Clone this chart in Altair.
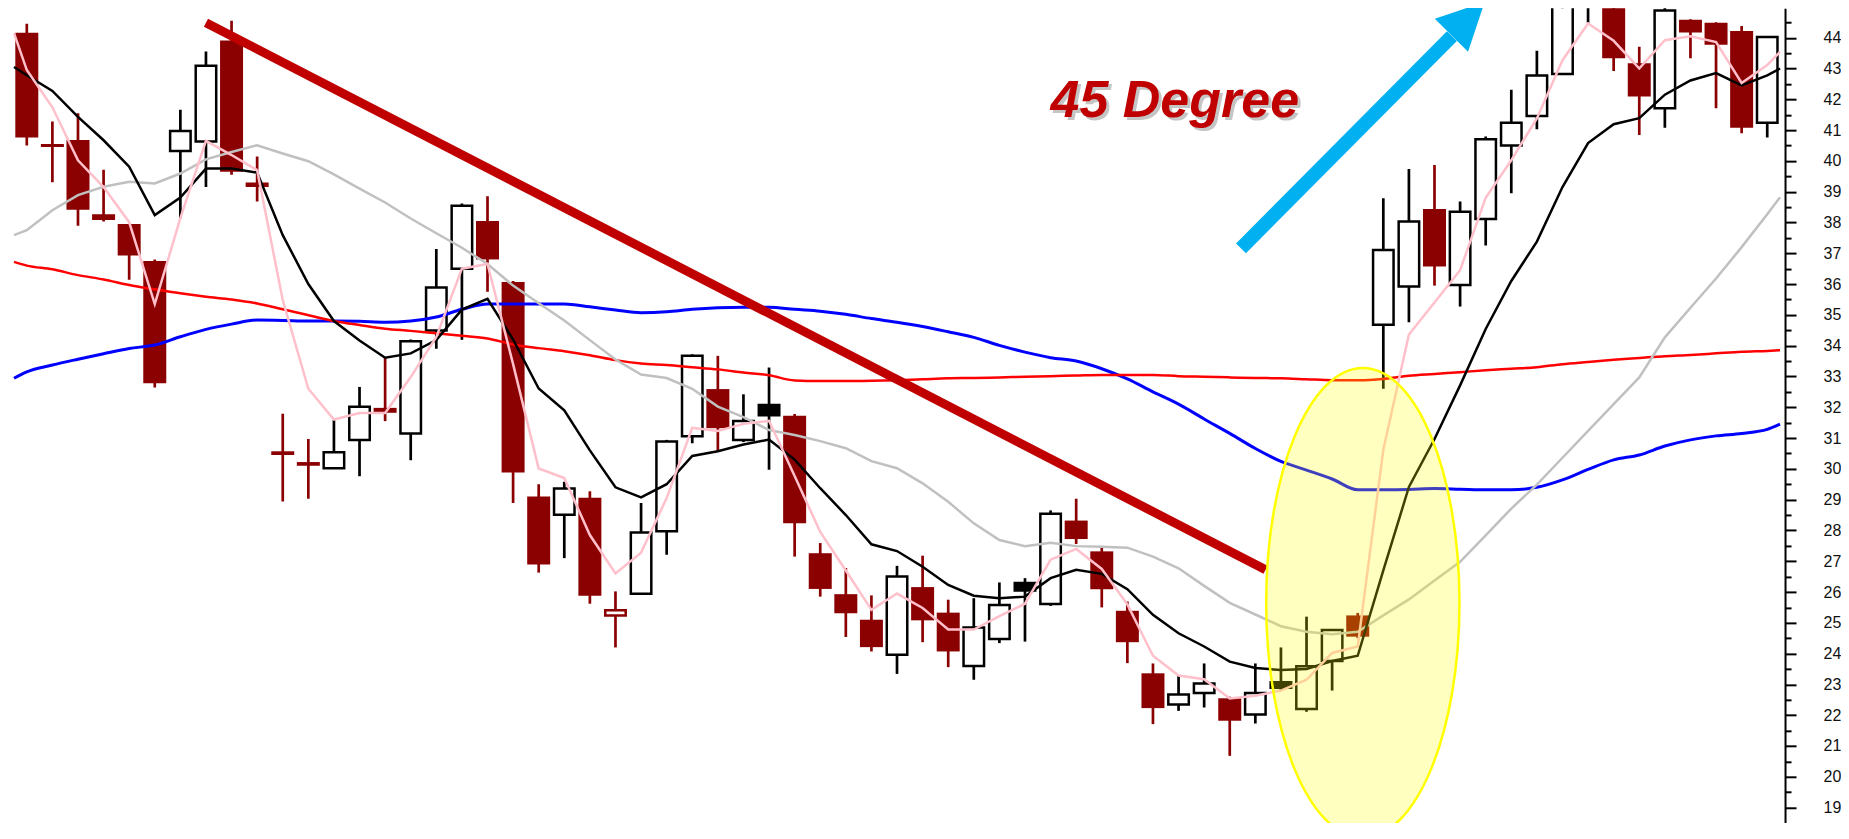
import altair as alt
import pandas as pd

# ---------------- candles (index 0..68) ----------------
opens = [44.16, 40.55, 40.68, 38.27, 37.95, 36.75, 40.32, 40.63, 43.91, 39.30,
         30.57, 30.22, 30.02, 30.94, 31.98, 31.15, 34.49, 36.50, 38.05, 36.07,
         29.10, 28.51, 29.06, 25.24, 25.94, 27.97, 31.06, 32.59, 30.94, 31.74,
         31.72, 27.26, 25.93, 25.10, 23.96, 26.16, 25.33, 23.60, 24.47, 26.05,
         25.61, 28.32, 27.32, 25.39, 23.36, 22.35, 22.72, 22.55, 22.02, 22.89,
         22.20, 23.76, 25.24, 34.68, 35.92, 38.44, 35.97, 38.11, 40.50, 41.46,
         42.82, 45.17, 45.80, 43.17, 41.71, 44.58, 44.49, 44.22, 41.24]
closes = [40.76, 40.45, 38.41, 38.08, 36.93, 32.78, 40.97, 43.09, 39.65, 39.15,
          30.45, 30.10, 30.54, 32.02, 31.82, 34.14, 35.89, 38.54, 36.80, 29.88,
          26.89, 29.36, 25.88, 25.41, 27.93, 30.89, 33.67, 31.32, 31.55, 32.07,
          28.23, 26.10, 25.31, 24.21, 26.50, 25.08, 24.07, 24.85, 25.58, 26.29,
          28.54, 27.72, 26.09, 24.37, 22.23, 22.67, 23.03, 21.82, 22.72, 23.07,
          23.59, 24.77, 24.55, 37.11, 38.03, 36.57, 38.35, 40.70, 41.24, 42.77,
          45.17, 46.00, 43.33, 42.09, 44.88, 44.17, 43.77, 41.08, 44.02]
highs = [44.45, 41.28, 41.55, 39.71, 37.95, 36.80, 41.66, 43.55, 44.55, 40.14,
         31.79, 30.97, 31.59, 32.66, 33.62, 34.20, 37.14, 38.62, 38.85, 36.10,
         29.50, 29.58, 29.27, 26.02, 28.89, 30.94, 33.72, 33.67, 32.42, 33.29,
         31.78, 27.59, 26.78, 25.89, 26.85, 27.18, 25.75, 25.80, 26.31, 26.45,
         28.65, 29.03, 27.46, 25.69, 23.68, 23.29, 23.68, 22.60, 23.68, 24.20,
         25.20, 24.77, 25.32, 38.79, 39.74, 39.87, 38.68, 40.79, 42.31, 43.58,
         45.50, 46.50, 46.00, 43.71, 45.30, 44.60, 44.50, 44.38, 44.02]
lows = [40.50, 39.31, 37.89, 38.03, 36.14, 32.64, 38.14, 39.15, 39.55, 38.68,
        28.94, 29.03, 30.00, 29.76, 31.55, 30.28, 33.90, 34.19, 35.75, 28.89,
        26.63, 27.10, 25.62, 24.20, 25.94, 27.21, 30.83, 30.57, 30.87, 29.97,
        27.15, 25.85, 24.54, 24.07, 23.34, 24.37, 23.56, 23.15, 24.34, 24.39,
        25.55, 27.56, 25.50, 23.69, 21.71, 22.14, 22.25, 20.68, 21.73, 22.80,
        22.11, 22.80, 24.50, 32.60, 34.76, 35.95, 35.27, 37.25, 38.95, 41.03,
        42.82, 44.49, 42.92, 40.84, 41.08, 43.33, 41.71, 40.90, 40.76]
# d = falling (filled dark red), u = rising (white), k = black body, h = hollow red
styles = list("dddddduudd" "dduuduuudd" "dudhuuuduk" "ddddudduuk"
              "udddduuduk" "uuduuduuuu" "uudduddd" "u")

# ---------------- moving averages (x = -0.5, 0..68, 68.5) ----------------
ma_pink = [44.15,
           42.95, 41.74, 40.02, 39.15, 38.01, 35.35, 38.14, 40.65, 40.19, 39.70,
           35.48, 32.60, 31.60, 31.81, 31.81, 32.98, 34.28, 36.50, 36.65, 33.40,
           30.01, 29.70, 27.85, 26.60, 27.28, 29.05, 31.33, 31.23, 31.46, 31.56,
           29.77, 27.95, 26.70, 25.42, 25.95, 25.48, 24.78, 24.78, 25.22, 25.62,
           27.05, 27.40, 26.75, 25.60, 23.93, 23.29, 23.17, 22.54, 22.63, 22.80,
           23.15, 24.02, 24.23, 30.62, 34.36, 35.40, 36.45, 38.80, 40.02, 41.38,
           43.27, 44.46, 43.90, 43.00, 43.92, 44.05, 43.86, 42.53, 43.11,
           43.54]
ma_black = [43.05,
            42.78, 42.27, 41.43, 40.67, 39.81, 38.24, 38.81, 39.75, 39.75, 39.62,
            37.59, 36.00, 34.80, 34.17, 33.61, 33.75, 34.18, 35.17, 35.52, 34.20,
            32.61, 31.90, 30.60, 29.40, 29.07, 29.50, 30.42, 30.57, 30.79, 30.95,
            30.30, 29.37, 28.50, 27.55, 27.33, 26.82, 26.23, 25.88, 25.80, 25.85,
            26.45, 26.72, 26.59, 26.09, 25.26, 24.66, 24.23, 23.74, 23.53, 23.47,
            23.50, 23.76, 23.93, 26.70, 29.41, 30.97, 32.71, 34.54, 36.10, 37.38,
            39.15, 40.58, 41.19, 41.39, 42.15, 42.61, 42.85, 42.45, 42.78,
            43.00]
ma_gray = [37.59,
           37.75, 38.40, 38.89, 39.16, 39.32, 39.27, 39.59, 40.05, 40.29, 40.51,
           40.24, 39.99, 39.56, 39.10, 38.65, 38.13, 37.65, 37.18, 36.65, 35.95,
           35.38, 34.82, 34.18, 33.55, 33.06, 32.95, 32.60, 32.02, 31.68, 31.26,
           31.10, 30.90, 30.67, 30.25, 30.02, 29.53, 28.93, 28.23, 27.69, 27.49,
           27.60, 27.49, 27.47, 27.44, 27.15, 26.77, 26.20, 25.65, 25.27, 24.89,
           24.71, 24.63, 24.71, 25.24, 25.76, 26.37, 26.98, 27.84, 28.71, 29.49,
           30.36, 31.23, 32.10, 32.97, 34.27, 35.23, 36.18, 37.20, 38.27,
           38.82]
ma_red = [36.72,
          36.60, 36.48, 36.29, 36.15, 35.97, 35.83, 35.70, 35.59, 35.50, 35.37,
          35.18, 34.99, 34.80, 34.67, 34.55, 34.48, 34.40, 34.32, 34.23, 34.04,
          33.92, 33.82, 33.69, 33.53, 33.42, 33.37, 33.30, 33.23, 33.13, 33.04,
          32.87, 32.85, 32.85, 32.86, 32.88, 32.91, 32.94, 32.95, 32.97, 32.99,
          33.01, 33.03, 33.05, 33.05, 33.05, 33.01, 32.99, 32.97, 32.95, 32.94,
          32.91, 32.88, 32.88, 32.92, 33.02, 33.08, 33.14, 33.20, 33.25, 33.30,
          33.40, 33.47, 33.54, 33.60, 33.66, 33.70, 33.75, 33.80, 33.83,
          33.85]
ma_blue = [32.94,
           33.15, 33.37, 33.56, 33.74, 33.91, 34.02, 34.29, 34.53, 34.70, 34.83,
           34.82, 34.80, 34.80, 34.79, 34.76, 34.80, 34.93, 35.18, 35.35, 35.35,
           35.35, 35.35, 35.26, 35.16, 35.07, 35.10, 35.18, 35.23, 35.25, 35.25,
           35.18, 35.12, 35.02, 34.88, 34.76, 34.62, 34.45, 34.27, 34.01, 33.79,
           33.61, 33.50, 33.25, 32.92, 32.50, 32.10, 31.62, 31.15, 30.66, 30.24,
           29.96, 29.67, 29.32, 29.32, 29.33, 29.36, 29.34, 29.32, 29.32, 29.40,
           29.64, 29.98, 30.29, 30.45, 30.74, 30.94, 31.07, 31.15, 31.28,
           31.45]

# ---------------- annotations ----------------
trend_start = (7.0, 44.49)
trend_end = (48.4, 26.72)
arrow_tail = (47.44, 37.16)
arrow_base = (55.68, 44.05)
arrow_head = (56.31, 44.62)
label_text = "45 Degree"
label_pos = (40.0, 41.43)
ellipse_center = (52.2, 25.65)
tick_values = [v / 2 for v in range(38, 91)]

N = len(opens)
candle_idx = list(range(N))
ma_idx = [-0.5] + candle_idx + [N - 0.5]

df = pd.DataFrame({"i": candle_idx, "open": opens, "close": closes,
                   "high": highs, "low": lows, "style": styles})
df["body_lo"] = df[["open", "close"]].min(axis=1)
df["body_hi"] = df[["open", "close"]].max(axis=1)

X_SCALE = alt.Scale(domain=[-0.5, N - 0.5], nice=False, zero=False)
Y_SCALE = alt.Scale(domain=[18.506, 44.958], nice=False, zero=False)
y_axis = alt.Axis(
    orient="right", title=None, values=tick_values, grid=False,
    labelExpr="datum.value % 1 === 0 ? format(datum.value, 'd') : ''",
    tickSize={"condition": {"test": "datum.value % 1 !== 0", "value": 6}, "value": 11},
    tickWidth=2, tickColor="#000", domainColor="#000", domainWidth=2,
    labelPadding=27, labelFont="Liberation Sans", labelFontSize=16,
    labelColor="#111", labelAlign="left", labelOverlap=False,
)

STYLE_KEYS = ["u", "d", "k", "h"]
stroke_scale = alt.Scale(domain=STYLE_KEYS, range=["#000000", "#8B0000", "#000000", "#8B0000"])
fill_scale = alt.Scale(domain=STYLE_KEYS, range=["#FFFFFF", "#8B0000", "#000000", "#FFFFFF"])

X = alt.X("i:Q", scale=X_SCALE, axis=None)

wicks = alt.Chart(df).mark_rule(strokeWidth=2.7, clip=True).encode(
    x=X,
    y=alt.Y("low:Q", scale=Y_SCALE, axis=y_axis),
    y2="high:Q",
    stroke=alt.Stroke("style:N", scale=stroke_scale, legend=None),
)

bodies_down = alt.Chart(df).transform_filter("datum.style === 'd'").mark_bar(
    size=23, clip=True, color="#8B0000"
).encode(
    x=X, y=alt.Y("body_lo:Q", scale=Y_SCALE, axis=y_axis), y2="body_hi:Q",
)

bodies_out = alt.Chart(df).transform_filter("datum.style !== 'd'").mark_bar(
    size=20.5, strokeWidth=2.5, clip=True
).encode(
    x=X, y=alt.Y("body_lo:Q", scale=Y_SCALE, axis=y_axis), y2="body_hi:Q",
    fill=alt.Fill("style:N", scale=fill_scale, legend=None),
    stroke=alt.Stroke("style:N", scale=stroke_scale, legend=None),
)


def ma_layer(values, color, width, interp="linear"):
    d = pd.DataFrame({"i": ma_idx, "v": values})
    return alt.Chart(d).mark_line(color=color, strokeWidth=width, clip=True,
                                  interpolate=interp).encode(
        x=X, y=alt.Y("v:Q", scale=Y_SCALE, axis=y_axis))


lines = [
    ma_layer(ma_blue, "#0000FF", 3, "monotone"),
    ma_layer(ma_red, "#FF0000", 2.5, "monotone"),
    ma_layer(ma_gray, "#C0C0C0", 2.5),
    ma_layer(ma_black, "#000000", 2.5),
    ma_layer(ma_pink, "#FFC0CB", 2.5),
]

seg_df = pd.DataFrame({
    "i": [trend_start[0], arrow_tail[0]], "v": [trend_start[1], arrow_tail[1]],
    "i2": [trend_end[0], arrow_base[0]], "v2": [trend_end[1], arrow_base[1]],
    "kind": ["trend", "arrow"],
})
trend = alt.Chart(seg_df).transform_filter("datum.kind === 'trend'").mark_rule(
    color="#C00000", strokeWidth=9, strokeCap="butt"
).encode(x=X, y=alt.Y("v:Q", scale=Y_SCALE, axis=y_axis), x2="i2:Q", y2="v2:Q")

shaft = alt.Chart(seg_df).transform_filter("datum.kind === 'arrow'").mark_rule(
    color="#00B0F0", strokeWidth=14, strokeCap="butt"
).encode(x=X, y=alt.Y("v:Q", scale=Y_SCALE, axis=y_axis), x2="i2:Q", y2="v2:Q")

head_df = pd.DataFrame({"i": [arrow_head[0]], "v": [arrow_head[1]]})
head = alt.Chart(head_df).mark_point(
    shape="M0,-1L1,1L-1,1Z", size=2209, angle=45, filled=True,
    fill="#00B0F0", color="#00B0F0", opacity=1, strokeWidth=0
).encode(x=X, y=alt.Y("v:Q", scale=Y_SCALE, axis=y_axis))

ell_df = pd.DataFrame({"i": [ellipse_center[0]], "v": [ellipse_center[1]]})
ellipse = alt.Chart(ell_df).mark_point(
    shape="M -0.4115 0 A 0.4115 1 0 1 0 0.4115 0 A 0.4115 1 0 1 0 -0.4115 0 Z",
    size=220900, filled=True, fill="#FFFF00", fillOpacity=0.25,
    stroke="#FFFF00", strokeOpacity=1, strokeWidth=2.5, opacity=1,
).encode(x=X, y=alt.Y("v:Q", scale=Y_SCALE, axis=y_axis))

txt_df = pd.DataFrame({"i": [label_pos[0]], "v": [label_pos[1]], "t": [label_text]})
txt_shadow = alt.Chart(txt_df).mark_text(
    font="Liberation Sans", fontSize=52, fontWeight="bold", fontStyle="italic",
    color="#7f7f7f", opacity=0.45, align="left", baseline="alphabetic", dx=3, dy=3,
).encode(x=X, y=alt.Y("v:Q", scale=Y_SCALE, axis=y_axis), text="t:N")
txt = alt.Chart(txt_df).mark_text(
    font="Liberation Sans", fontSize=52, fontWeight="bold", fontStyle="italic",
    color="#C00000", align="left", baseline="alphabetic",
).encode(x=X, y=alt.Y("v:Q", scale=Y_SCALE, axis=y_axis), text="t:N")

chart = alt.layer(
    wicks, bodies_down, bodies_out, *lines, trend, ellipse, shaft, head, txt_shadow, txt
).properties(
    width=1777, height=815,
    padding={"left": 1, "top": 0, "right": 56, "bottom": 0},
    autosize=alt.AutoSizeParams(type="none"),
    background="white",
).configure_view(stroke=None)

chart.save("out.html", embed_options={"renderer": "svg", "actions": False})
